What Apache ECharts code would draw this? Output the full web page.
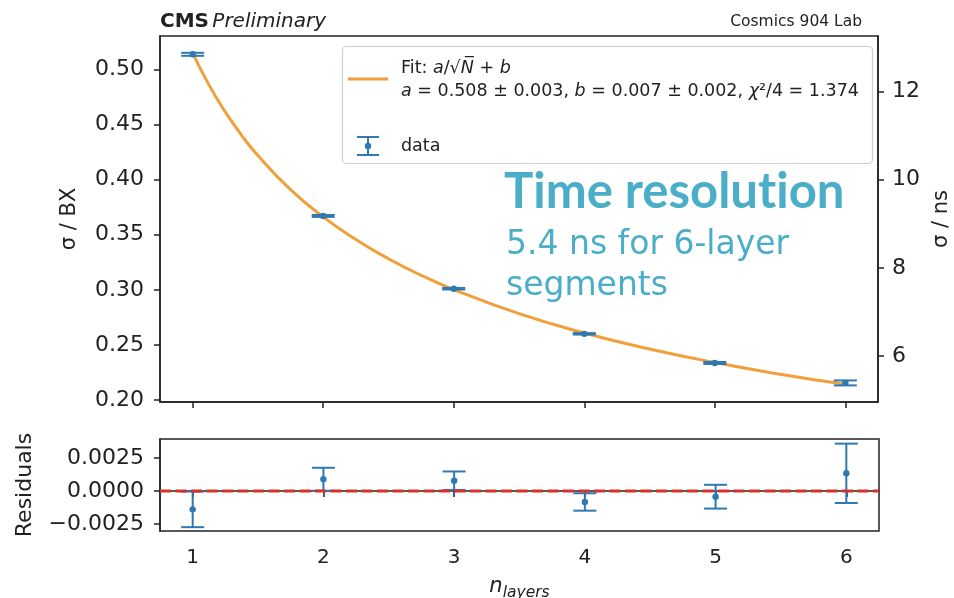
<!DOCTYPE html>
<html><head><meta charset="utf-8">
<script src="https://cdn.jsdelivr.net/npm/echarts@6/dist/echarts.min.js"></script>
<style>html,body{margin:0;padding:0;background:#fff}#c{width:954px;height:598px}</style>
</head><body><div id="c"></div>
<script>
// ---- data ----
const layers = [1, 2, 3, 4, 5, 6];
const sigmaBX = [0.5136, 0.3671, 0.3011, 0.2602, 0.2338, 0.2157];
const sigmaErr = [0.00135, 0.00087, 0.0007, 0.00066, 0.0009, 0.00225];
const residuals = [-0.00139, 0.00089, 0.00078, -0.00083, -0.00043, 0.00134];
const fitX = [1, 1.125, 1.25, 1.375, 1.5, 1.75, 2, 2.25, 2.5, 2.75, 3, 3.5, 4, 4.5, 5, 5.5, 6];
const fitY = [0.515, 0.4859, 0.4614, 0.4402, 0.4218, 0.391, 0.3662, 0.3457, 0.3283, 0.3133, 0.3003, 0.2785, 0.261, 0.2465, 0.2342, 0.2236, 0.2144];
const xTicks = [1, 2, 3, 4, 5, 6];
const bxTicks = [0.20, 0.25, 0.30, 0.35, 0.40, 0.45, 0.50];
const nsTicks = [6, 8, 10, 12];
const resTicks = [-0.0025, 0, 0.0025];
const residualZero = 0;

// ---- style ----
const BLUE = '#2f78b2';
const ORANGE = '#f0a03a';
const RED = '#d9302c';
const INK = '#222';
const FONT = 'DejaVu Sans';
const xMin = 0.75, xMax = 6.25;
const bxMin = 0.1984, bxMax = 0.5302;
const NS_PER_BX = 25;
const resMin = -0.00303, resMax = 0.00394;

const chart = echarts.init(document.getElementById('c'), null, {renderer: 'canvas'});

function errRender(params, api) {
  const x = api.value(0), y = api.value(1), e = api.value(2);
  const t = api.coord([x, y + e]), b = api.coord([x, y - e]), c = api.coord([x, y]);
  const w = 11.5;
  const st = {stroke: BLUE, lineWidth: 2};
  return {type: 'group', children: [
    {type: 'line', shape: {x1: t[0], y1: t[1], x2: b[0], y2: b[1]}, style: st},
    {type: 'line', shape: {x1: t[0] - w, y1: t[1], x2: t[0] + w, y2: t[1]}, style: st},
    {type: 'line', shape: {x1: b[0] - w, y1: b[1], x2: b[0] + w, y2: b[1]}, style: st},
    {type: 'circle', shape: {cx: c[0], cy: c[1], r: 3.2}, style: {fill: BLUE}}
  ]};
}

const axisLineStyle = {lineStyle: {color: INK, width: 1.5}};
const tickStyle = {lineStyle: {color: INK, width: 1.5}};

const option = {
  animation: false,
  backgroundColor: '#fff',
  grid: [
    {left: 160, right: 76, top: 36, height: 366, show: true, borderColor: INK, borderWidth: 1.5,
     backgroundColor: 'transparent', containLabel: false, outerBoundsMode: 'none'},
    {left: 160, right: 75, top: 439, height: 92, show: true, borderColor: INK, borderWidth: 1.5,
     backgroundColor: 'transparent', containLabel: false, outerBoundsMode: 'none'}
  ],
  xAxis: [
    {gridIndex: 0, type: 'value', min: xMin, max: xMax,
     axisLine: axisLineStyle, splitLine: {show: false},
     axisTick: {show: true, length: 6, customValues: xTicks, ...tickStyle},
     axisLabel: {show: false}},
    {gridIndex: 1, type: 'value', min: xMin, max: xMax,
     axisLine: axisLineStyle, splitLine: {show: false},
     axisTick: {show: true, length: 6, customValues: xTicks, ...tickStyle},
     axisLabel: {show: true, customValues: xTicks, fontFamily: FONT, fontSize: 20, color: INK, margin: 17},
     name: '{n|n}{s|layers}', nameLocation: 'middle', nameGap: 42,
     nameTextStyle: {rich: {
       n: {fontFamily: FONT, fontStyle: 'italic', fontSize: 21, color: INK},
       s: {fontFamily: FONT, fontStyle: 'italic', fontSize: 15.5, color: INK, padding: [12, 0, 0, 0]}
     }}}
  ],
  yAxis: [
    {gridIndex: 0, type: 'value', min: bxMin, max: bxMax,
     axisLine: axisLineStyle, splitLine: {show: false},
     axisTick: {show: true, length: 6, customValues: bxTicks, ...tickStyle},
     axisLabel: {customValues: bxTicks, formatter: v => v.toFixed(2), fontFamily: FONT, fontSize: 22, color: INK, margin: 16},
     name: 'σ / BX', nameLocation: 'middle', nameGap: 80, nameRotate: 90,
     nameTextStyle: {fontFamily: FONT, fontSize: 21, color: INK}},
    {gridIndex: 0, type: 'value', position: 'right', min: bxMin * NS_PER_BX, max: bxMax * NS_PER_BX,
     axisLine: axisLineStyle, splitLine: {show: false},
     axisTick: {show: true, length: 6, customValues: nsTicks, ...tickStyle},
     axisLabel: {customValues: nsTicks, fontFamily: FONT, fontSize: 22, color: INK, margin: 14},
     name: 'σ / ns', nameLocation: 'middle', nameGap: 52, nameRotate: 90,
     nameTextStyle: {fontFamily: FONT, fontSize: 21, color: INK}},
    {gridIndex: 1, type: 'value', min: resMin, max: resMax,
     axisLine: axisLineStyle, splitLine: {show: false},
     axisTick: {show: true, length: 6, customValues: resTicks, ...tickStyle},
     axisLabel: {customValues: resTicks, formatter: v => (v < 0 ? '\u2212' : '') + Math.abs(v).toFixed(4),
       fontFamily: FONT, fontSize: 22, color: INK, margin: 16},
     name: 'Residuals', nameLocation: 'middle', nameGap: 124, nameRotate: 90,
     nameTextStyle: {fontFamily: FONT, fontSize: 22, color: INK}}
  ],
  series: [
    {type: 'line', xAxisIndex: 0, yAxisIndex: 0, data: fitX.map((x, i) => [x, fitY[i]]),
     smooth: true, symbol: 'none', lineStyle: {color: ORANGE, width: 3}, silent: true, z: 2},
    {type: 'custom', xAxisIndex: 0, yAxisIndex: 0, renderItem: errRender,
     encode: {x: 0, y: 1}, data: layers.map((x, i) => [x, sigmaBX[i], sigmaErr[i]]), z: 3},
    {type: 'custom', xAxisIndex: 1, yAxisIndex: 2, renderItem: errRender,
     encode: {x: 0, y: 1}, data: layers.map((x, i) => [x, residuals[i], sigmaErr[i]]), z: 3},
    {type: 'line', xAxisIndex: 1, yAxisIndex: 2, data: [[xMin, residualZero], [xMax, residualZero]],
     symbol: 'none', lineStyle: {color: RED, width: 3, type: [11, 4.5]}, silent: true, z: 4}
  ],
  graphic: [
    {type: 'text', x: 160, y: 32, style: {text: '{b|CMS} {i|Preliminary}', textVerticalAlign: 'bottom',
      rich: {b: {fontFamily: FONT, fontWeight: 'bold', fontSize: 20, fill: INK, color: INK},
             i: {fontFamily: FONT, fontStyle: 'italic', fontSize: 20, fill: INK, color: INK}}}},
    {type: 'text', x: 862, y: 30, style: {text: 'Cosmics 904 Lab', textAlign: 'right', textVerticalAlign: 'bottom',
      font: '15.5px "DejaVu Sans"', fill: INK}},
    // legend
    {type: 'rect', shape: {x: 342.5, y: 46.5, width: 530, height: 117, r: 4},
     style: {fill: 'rgba(255,255,255,0.85)', stroke: '#cfcfcf', lineWidth: 1.2}, z: 10},
    {type: 'line', shape: {x1: 348, y1: 79, x2: 388, y2: 79}, style: {stroke: ORANGE, lineWidth: 3}, z: 11},
    {type: 'text', x: 401, y: 68, z: 11, style: {text: 'Fit: {i|a}/\u221A{i|N\u0305} + {i|b}', textVerticalAlign: 'middle',
      font: '17.5px "DejaVu Sans"', fill: INK,
      rich: {i: {fontFamily: FONT, fontStyle: 'italic', fontSize: 17.5, fill: INK, color: INK}}}},
    {type: 'text', x: 401, y: 91, z: 11, style: {text: '{i|a} = 0.508 \u00B1 0.003, {i|b} = 0.007 \u00B1 0.002, {i|\u03C7}\u00B2/4 = 1.374', textVerticalAlign: 'middle',
      font: '17.5px "DejaVu Sans"', fill: INK,
      rich: {i: {fontFamily: FONT, fontStyle: 'italic', fontSize: 17.5, fill: INK, color: INK}}}},
    {type: 'line', shape: {x1: 368, y1: 137, x2: 368, y2: 155}, style: {stroke: BLUE, lineWidth: 2}, z: 11},
    {type: 'line', shape: {x1: 357, y1: 137, x2: 379, y2: 137}, style: {stroke: BLUE, lineWidth: 2}, z: 11},
    {type: 'line', shape: {x1: 357, y1: 155, x2: 379, y2: 155}, style: {stroke: BLUE, lineWidth: 2}, z: 11},
    {type: 'circle', shape: {cx: 368, cy: 146, r: 3.2}, style: {fill: BLUE}, z: 11},
    {type: 'text', x: 401, y: 146, z: 11, style: {text: 'data', textVerticalAlign: 'middle', font: '17.5px "DejaVu Sans"', fill: INK}},
    // overlay annotation
    {type: 'text', x: 504, y: 192, z: 12, style: {text: 'Time resolut\u200Cion', textVerticalAlign: 'middle',
      font: 'bold 49px Lato', fill: '#4aaec9'}},
    {type: 'text', x: 506, y: 245, z: 12, style: {text: '5.4 ns for 6-layer', textVerticalAlign: 'middle',
      font: '33px "DejaVu Sans"', fill: '#4aaec9'}},
    {type: 'text', x: 506, y: 286, z: 12, style: {text: 'segments', textVerticalAlign: 'middle',
      font: '33px "DejaVu Sans"', fill: '#4aaec9'}}
  ]
};
chart.setOption(option);
</script>
</body></html>
